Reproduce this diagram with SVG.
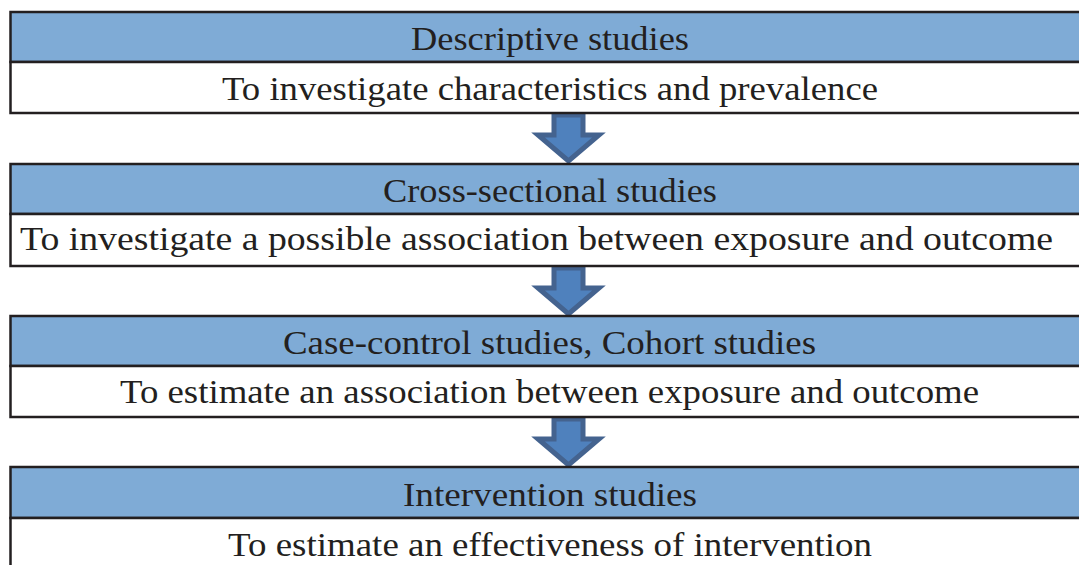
<svg xmlns="http://www.w3.org/2000/svg" width="1079" height="565" viewBox="0 0 1079 565">
<style>
.hd{fill:#7fabd6;stroke:#231f20;stroke-width:2.5}
.bd{fill:#ffffff;stroke:#231f20;stroke-width:2.5}
.t{font-family:"Liberation Serif","Times New Roman",serif;font-size:33px;fill:#231f20;text-anchor:middle}
.ar{fill:#4f81bd;stroke:#44638f;stroke-width:5;stroke-linejoin:miter}
</style>
<rect width="1079" height="565" fill="#ffffff"/>
<g id="connectors">
<path class="ar" d="M554,115 H583 V135 H599 L568.5,161 L538,135 H554 Z"/>
<path class="ar" d="M554,268 H583 V288 H599 L568.5,314 L538,288 H554 Z"/>
<path class="ar" d="M554,419 H583 V439 H599 L568.5,465 L538,439 H554 Z"/>
</g>
<g id="node1">
<rect class="hd" x="10.5" y="12" width="1100" height="50"/>
<rect class="bd" x="10.5" y="62" width="1100" height="51"/>
<text class="t" x="550" y="50" textLength="278" lengthAdjust="spacingAndGlyphs">Descriptive studies</text>
<text class="t" x="550" y="100" textLength="656" lengthAdjust="spacingAndGlyphs">To investigate characteristics and prevalence</text>
</g>
<g id="node2">
<rect class="hd" x="10.5" y="164" width="1100" height="50"/>
<rect class="bd" x="10.5" y="214" width="1100" height="52"/>
<text class="t" x="550" y="202" textLength="334" lengthAdjust="spacingAndGlyphs">Cross-sectional studies</text>
<text class="t" x="536.5" y="250" textLength="1033" lengthAdjust="spacingAndGlyphs">To investigate a possible association between exposure and outcome</text>
</g>
<g id="node3">
<rect class="hd" x="10.5" y="316" width="1100" height="50"/>
<rect class="bd" x="10.5" y="366" width="1100" height="51"/>
<text class="t" x="549.5" y="354" textLength="533" lengthAdjust="spacingAndGlyphs">Case-control studies, Cohort studies</text>
<text class="t" x="549.5" y="403" textLength="859" lengthAdjust="spacingAndGlyphs">To estimate an association between exposure and outcome</text>
</g>
<g id="node4">
<rect class="hd" x="10.5" y="467" width="1100" height="51"/>
<rect class="bd" x="10.5" y="518" width="1100" height="80"/>
<text class="t" x="550" y="506" textLength="294" lengthAdjust="spacingAndGlyphs">Intervention studies</text>
<text class="t" x="550" y="556" textLength="644" lengthAdjust="spacingAndGlyphs">To estimate an effectiveness of intervention</text>
</g>
</svg>
